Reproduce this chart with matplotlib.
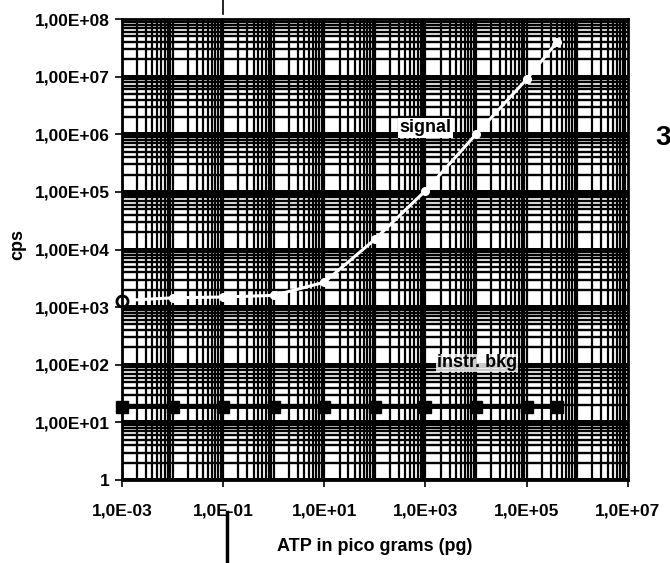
import numpy as np
import matplotlib
matplotlib.use("Agg")
import matplotlib.pyplot as plt
from matplotlib.ticker import FixedLocator, FixedFormatter, NullFormatter

plt.rcParams['font.family'] = ['Liberation Sans', 'DejaVu Sans']

# data
atp_pg = [1e-3, 1e-2, 1e-1, 1e0, 1e1, 1e2, 1e3, 1e4, 1e5, 4e5]
signal_cps = [1.3e3, 1.45e3, 1.5e3, 1.6e3, 2.7e3, 1.5e4, 1.05e5, 1.0e6, 9e6, 4e7]
bkg_cps = [18.5, 18.5, 18.5, 18.5, 18.5, 18.5, 18.5, 18.5, 18.5, 18.5]

x_ticks = [1e-3, 1e-1, 1e1, 1e3, 1e5, 1e7]
x_labels = ['1,0E-03', '1,0E-01', '1,0E+01', '1,0E+03', '1,0E+05', '1,0E+07']
y_ticks = [1, 1e1, 1e2, 1e3, 1e4, 1e5, 1e6, 1e7, 1e8]
y_labels = ['1', '1,00E+01', '1,00E+02', '1,00E+03', '1,00E+04',
            '1,00E+05', '1,00E+06', '1,00E+07', '1,00E+08']

fig = plt.figure(figsize=(6.7, 5.63), dpi=100)
ax = fig.add_axes([0.182, 0.1474, 0.755, 0.8188])
ax.set_xscale('log')
ax.set_yscale('log')
ax.set_xlim(1e-3, 1e7)
ax.set_ylim(1, 1e8)

# dense black grid like the scan
for dec in range(-3, 7):
    for m in range(1, 10):
        ax.axvline(m * 10.0**dec, color='black', lw=1.6, zorder=1)
for dec in range(0, 8):
    ax.axhline(10.0**dec, color='black', lw=3.6, zorder=1)
    for m in range(2, 10):
        ax.axhline(m * 10.0**dec, color='black', lw=1.7, zorder=1)

ax.plot(atp_pg, bkg_cps, color='black', lw=2.8, marker='s', ms=9,
        mfc='black', mec='black', zorder=3, clip_on=False)
ax.plot(atp_pg, signal_cps, color='white', lw=2.2, marker='o', ms=5.5,
        mfc='white', mec='white', zorder=3)
ax.plot(atp_pg[:1], signal_cps[:1], ls='none', marker='o', ms=8,
        mfc='white', mec='black', mew=2, zorder=4, clip_on=False)

ax.text(1e3, 1.3e6, 'signal', fontsize=13, fontweight='bold', ha='center',
        va='center', zorder=5,
        bbox=dict(facecolor='white', edgecolor='none', pad=1))
ax.text(1.05e4, 1.08e2, 'instr. bkg', fontsize=13, fontweight='bold',
        ha='center', va='center', zorder=5,
        bbox=dict(facecolor='white', edgecolor='none', pad=0.5, alpha=0.8))

ax.xaxis.set_major_locator(FixedLocator(x_ticks))
ax.xaxis.set_major_formatter(FixedFormatter(x_labels))
ax.xaxis.set_minor_formatter(NullFormatter())
ax.yaxis.set_major_locator(FixedLocator(y_ticks))
ax.yaxis.set_major_formatter(FixedFormatter(y_labels))
ax.yaxis.set_minor_formatter(NullFormatter())
ax.tick_params(which='major', direction='out', length=5, width=1.2,
               labelsize=12.5, pad=4)
ax.tick_params(axis='x', which='major', pad=12)
ax.tick_params(which='minor', length=0)
for lab in ax.get_xticklabels() + ax.get_yticklabels():
    lab.set_fontweight('bold')
for sp in ax.spines.values():
    sp.set_linewidth(2)
    sp.set_zorder(6)

ax.set_xlabel('ATP in pico grams (pg)', fontsize=13, fontweight='bold',
              labelpad=14)
fig.text(0.027, 0.565, 'cps', rotation=90, fontsize=13, fontweight='bold',
         ha='center', va='center')

# scan artifacts: fold line and page number
fig.add_artist(plt.Line2D([0.339, 0.339], [0.0, 0.09], color='black', lw=2.5))
fig.add_artist(plt.Line2D([0.333, 0.333], [0.975, 1.0], color='black', lw=1.2))
fig.text(0.99, 0.755, '3', fontsize=20, fontweight='bold', ha='center',
         va='center')

fig.savefig('out.png', dpi=100)
